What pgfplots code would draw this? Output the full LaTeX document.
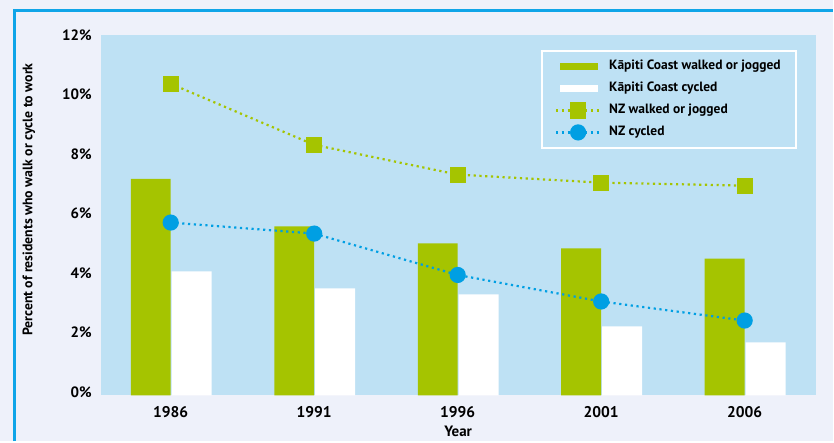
\documentclass[border=0pt]{standalone}
\usepackage{fontspec}
\setmainfont{PT Sans}
\usepackage{pgfplots}
\pgfplotsset{compat=1.18}
\definecolor{kgreen}{HTML}{A5C400}
\definecolor{nzblue}{HTML}{009FE3}
\definecolor{plotbg}{HTML}{BEE1F4}
\definecolor{outerbg}{HTML}{EEF1FA}
\definecolor{frameblue}{HTML}{0FA5E8}
\pgfplotsset{
  dotlegend/.style={legend image code/.code={\draw[##1, line width=2.2pt, mark repeat=2, mark phase=2] plot coordinates {(0pt,0pt) (22pt,0pt) (44pt,0pt)};}},
}
\begin{document}
\begin{tikzpicture}[x=1pt,y=1pt]
\fill[outerbg] (0,0) rectangle (834,442);
\draw[frameblue, line width=3pt] (15,0) -- (15,431) -- (834,431);
\begin{axis}[
  at={(101pt,46pt)}, anchor=south west, scale only axis,
  width=716pt, height=361pt,
  xmin=-0.487, xmax=4.494, ymin=0, ymax=12.1,
  axis line style={draw=none}, tick style={draw=none},
  axis background/.style={fill=plotbg},
  /pgf/number format/assume math mode=true,
  xtick={0,1,2,3,4}, xticklabels={1986,1991,1996,2001,2006},
  ytick={0,2,4,6,8,10,12},
  yticklabel={\pgfmathprintnumber{\tick}\%},
  yticklabel style={font=\bfseries\fontsize{15}{17}\selectfont, inner sep=0pt, xshift=-9pt, yshift=3pt},
  xticklabel style={font=\bfseries\fontsize{15.5}{17}\selectfont, inner sep=0pt, anchor=center, yshift=-17pt},
  xlabel={Year},
  xlabel style={at={(axis description cs:0.5,-0.0997)}, anchor=center, font=\bfseries\fontsize{15}{17}\selectfont},
  ylabel={Percent of residents who walk or cycle to work},
  ylabel style={at={(axis description cs:-0.1006,0.543)}, anchor=center, font=\bfseries\fontsize{13.8}{16}\selectfont},
  legend cell align=left,
  legend style={at={(axis description cs:0.616,0.958)}, anchor=north west,
    draw=white, line width=2pt, fill=plotbg, inner xsep=13pt, inner ysep=8pt,
    row sep=7pt, font=\bfseries\fontsize{13.5}{15}\selectfont,
    nodes={inner sep=2pt, text height=8.5pt, text depth=2.5pt},
    /tikz/every odd column/.append style={column sep=6pt}},
]
\addplot[ybar, bar width=40pt, bar shift=-20pt, fill=kgreen, draw=none,
  legend image code/.code={\fill[kgreen] (4pt,-3.5pt) rectangle (42pt,3.5pt);}]
  coordinates {(0,7.27) (1,5.67) (2,5.10) (3,4.93) (4,4.59)};
\addlegendentry{Kāpiti Coast walked or jogged}
\addplot[ybar, bar width=40pt, bar shift=21pt, fill=white, draw=none,
  legend image code/.code={\fill[white] (4pt,-3.5pt) rectangle (42pt,3.5pt);}]
  coordinates {(0,4.16) (1,3.59) (2,3.39) (3,2.31) (4,1.78)};
\addlegendentry{Kāpiti Coast cycled}
\addplot[kgreen, line width=2.2pt, dash pattern=on 2.2pt off 3.6pt,
  mark=square*, mark size=7pt, mark options={solid, draw=none, fill=kgreen}, dotlegend]
  coordinates {(0,10.46) (1,8.41) (2,7.41) (3,7.14) (4,7.04)};
\addlegendentry{NZ walked or jogged}
\addplot[nzblue, line width=2.2pt, dash pattern=on 2.2pt off 3.6pt,
  mark=*, mark size=7pt, mark options={solid, draw=none, fill=nzblue}, dotlegend]
  coordinates {(0,5.80) (1,5.43) (2,4.04) (3,3.15) (4,2.51)};
\addlegendentry{NZ cycled}
\end{axis}
\end{tikzpicture}
\end{document}
